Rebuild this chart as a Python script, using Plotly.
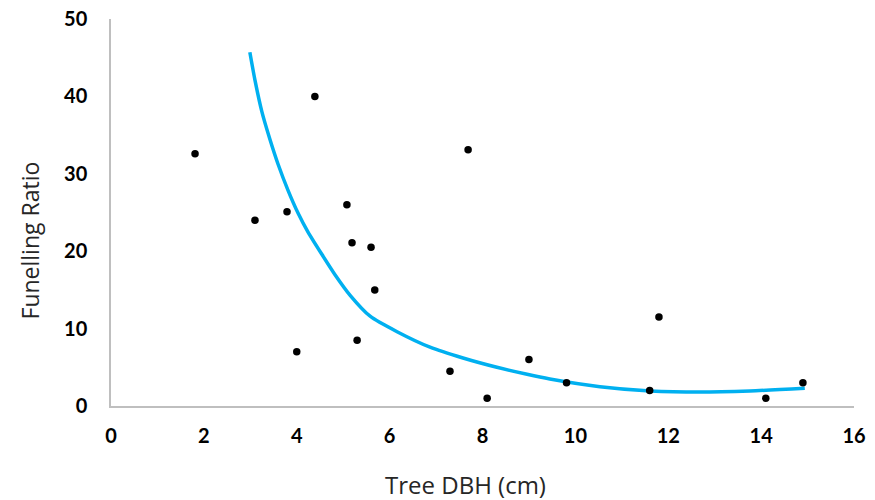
import plotly.graph_objects as go

# Observed data
dbh = [1.81, 3.10, 3.79, 4.00, 4.39, 5.08, 5.19, 5.30, 5.60, 5.68,
       7.30, 7.69, 8.10, 9.00, 9.81, 11.6, 11.8, 14.1, 14.9]
ratio = [32.6, 24.0, 25.1, 7.0, 40.0, 26.0, 21.1, 8.5, 20.5, 15.0,
         4.5, 33.1, 1.0, 6.0, 3.0, 2.0, 11.5, 1.0, 3.0]

# Trend line
trend_x = [2.99, 3.10, 3.25, 3.42, 3.60, 3.81, 4.03, 4.24, 4.54, 4.82,
           5.15, 5.58, 6.16, 6.87, 7.58, 8.31, 8.96, 9.45, 10.53, 11.61,
           12.68, 13.76, 14.94]
trend_y = [45.7, 42.1, 38.0, 34.5, 31.2, 27.9, 24.9, 22.5, 19.6, 17.0,
           14.3, 11.6, 9.6, 7.6, 6.2, 5.0, 4.1, 3.5, 2.5, 1.95,
           1.8, 1.95, 2.3]

x_ticks = [0, 2, 4, 6, 8, 10, 12, 14, 16]
y_ticks = [0, 10, 20, 30, 40, 50]

x_title = "Tree DBH (cm)"
y_title = "Funelling Ratio"

fig = go.Figure()
fig.add_trace(go.Scatter(x=trend_x, y=trend_y, mode="lines",
                         line=dict(color="#00B0F0", width=3.5, shape="spline", smoothing=0.6),
                         hoverinfo="skip", showlegend=False))
fig.add_trace(go.Scatter(x=dbh, y=ratio, mode="markers",
                         marker=dict(color="black", size=7.5),
                         showlegend=False))

tick_family = "Lato, sans-serif"
title_family = "Open Sans, sans-serif"
fig.update_layout(
    width=875, height=500,
    margin=dict(l=111, r=21, t=19, b=94),
    paper_bgcolor="white", plot_bgcolor="white",
    font=dict(family=tick_family, color="#000000"),
    xaxis=dict(range=[0, 16], tickvals=x_ticks, showgrid=False, zeroline=False,
               showline=True, linecolor="#BFBFBF", linewidth=1.5, automargin=False,
               ticks="", ticklen=0, ticklabelstandoff=11,
               tickfont=dict(size=20, family=tick_family, color="#000000", weight="bold")),
    yaxis=dict(range=[0, 50], tickvals=y_ticks, showgrid=False, zeroline=False,
               showline=True, linecolor="#BFBFBF", linewidth=1.5, automargin=False,
               ticks="", ticklen=0, ticklabelstandoff=18,
               tickfont=dict(size=20, family=tick_family, color="#000000", weight="bold")),
    annotations=[
        dict(text=x_title, xref="paper", yref="paper", x=0.4765, y=-0.2016,
             xanchor="center", yanchor="middle", showarrow=False,
             font=dict(size=24, family=title_family, color="#262626")),
        dict(text=y_title, xref="paper", yref="paper", x=-0.109, y=0.4277,
             xanchor="center", yanchor="middle", showarrow=False, textangle=-90,
             font=dict(size=23, family=title_family, color="#262626")),
    ],
)

fig.write_html("out.html")
